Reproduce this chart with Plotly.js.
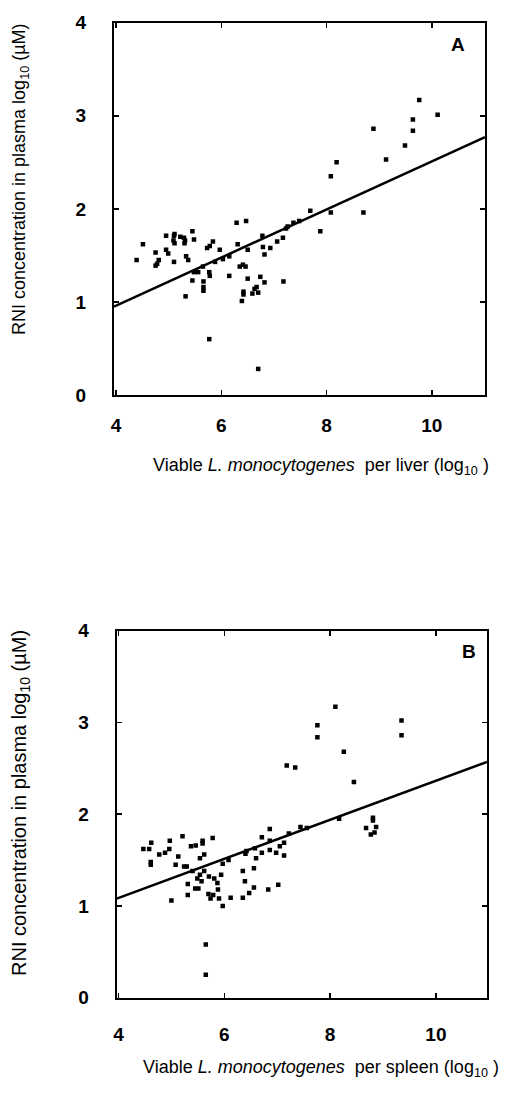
<!DOCTYPE html>
<html>
<head>
<meta charset="utf-8">
<script src="https://cdn.plot.ly/plotly-3.0.1.min.js"></script>
<style>html,body{margin:0;padding:0;background:#fff;}#chart{width:515px;height:1111px;}</style>
</head>
<body>
<div id="chart"></div>
<script>
// Panel A: liver
const liverX = [4.39,4.51,4.75,4.81,4.75,4.78,4.95,4.95,4.99,5.10,5.10,5.11,5.09,5.22,5.11,5.29,5.30,5.31,5.45,5.48,5.33,5.37,5.32,5.45,5.48,5.56,5.65,5.66,5.66,5.66,5.73,5.78,5.84,5.77,5.78,5.77,5.88,5.97,6.03,6.15,6.15,
  6.29,6.47,6.31,6.35,6.46,6.50,6.41,6.50,6.42,6.42,6.39,6.59,6.63,6.67,6.70,6.74,6.82,6.70,6.78,6.79,6.82,6.93,7.06,7.17,7.18,7.23,7.26,7.37,7.48,7.69,7.88,8.08,8.08,8.19,8.70,8.89,9.13,9.49,9.64,9.64,9.76,10.11];
const liverY = [1.45,1.62,1.53,1.45,1.39,1.41,1.71,1.56,1.52,1.43,1.71,1.63,1.66,1.70,1.73,1.69,1.63,1.66,1.76,1.67,1.49,1.45,1.06,1.23,1.32,1.32,1.38,1.22,1.16,1.12,1.58,1.60,1.65,1.32,1.28,0.60,1.43,1.56,1.46,1.49,1.28,
  1.85,1.87,1.62,1.38,1.38,1.56,1.40,1.25,1.11,1.08,1.01,1.09,1.14,1.16,1.10,1.27,1.21,0.28,1.71,1.59,1.51,1.58,1.65,1.69,1.22,1.79,1.81,1.85,1.87,1.98,1.76,1.96,2.35,2.50,1.96,2.86,2.53,2.68,2.84,2.96,3.17,3.01];
const liverFitX = [3.96, 11.01];
const liverFitY = [0.95, 2.77];

// Panel B: spleen
const spleenX = [4.47,4.58,4.62,4.61,4.61,4.77,4.88,4.96,4.97,5.00,5.08,5.13,5.21,5.24,5.29,5.31,5.31,5.37,5.40,5.46,5.45,5.51,5.49,5.54,5.59,5.59,5.62,5.62,5.57,5.54,5.65,5.65,5.71,5.70,5.74,5.78,5.79,5.81,5.87,5.88,5.90,5.94,5.97,5.97,6.08,6.12,
  6.35,6.35,6.39,6.40,6.42,6.47,6.56,6.56,6.58,6.60,6.71,6.71,6.83,6.86,6.86,6.86,6.98,7.02,7.05,7.13,7.13,7.18,7.22,7.34,7.44,7.56,7.76,7.76,8.10,8.17,8.26,8.45,8.68,8.77,8.81,8.81,8.87,8.84,9.35,9.35];
const spleenY = [1.62,1.62,1.69,1.48,1.45,1.56,1.58,1.62,1.71,1.06,1.45,1.54,1.76,1.43,1.43,1.24,1.12,1.65,1.38,1.66,1.19,1.19,1.30,1.52,1.68,1.71,1.56,1.38,1.27,1.34,0.58,0.25,1.32,1.13,1.08,1.74,1.12,1.30,1.25,1.18,1.08,1.34,1.46,1.00,1.50,1.09,
  1.38,1.09,1.27,1.57,1.60,1.14,1.41,1.20,1.63,1.52,1.58,1.75,1.18,1.84,1.71,1.61,1.58,1.23,1.65,1.69,1.55,2.53,1.79,2.51,1.86,1.85,2.97,2.84,3.17,1.95,2.68,2.35,1.85,1.78,1.96,1.93,1.86,1.80,3.02,2.86];
const spleenFitX = [3.966, 10.966];
const spleenFitY = [1.08, 2.57];

const xTicks = [4, 6, 8, 10];
const yTicks = [0, 1, 2, 3, 4];
const panelLabels = ['A', 'B'];
const xTitles = ['Viable <i>L. monocytogenes</i>  per liver (log<sub>10</sub> )',
                 'Viable <i>L. monocytogenes</i>  per spleen (log<sub>10</sub> )'];
const yTitle = 'RNI concentration in plasma log<sub>10</sub> (µM)';

const FONT = 'Liberation Sans, Arial, Helvetica, sans-serif';
const W = 515, H = 1111;

const marker = {symbol: 'square', size: 4.5, color: '#000'};
const traces = [
  {x: liverX, y: liverY, type: 'scatter', mode: 'markers', marker: marker, xaxis: 'x', yaxis: 'y', hoverinfo: 'skip'},
  {x: liverFitX, y: liverFitY, type: 'scatter', mode: 'lines', line: {color: '#000', width: 2.5}, xaxis: 'x', yaxis: 'y', hoverinfo: 'skip'},
  {x: spleenX, y: spleenY, type: 'scatter', mode: 'markers', marker: marker, xaxis: 'x2', yaxis: 'y2', hoverinfo: 'skip'},
  {x: spleenFitX, y: spleenFitY, type: 'scatter', mode: 'lines', line: {color: '#000', width: 2.5}, xaxis: 'x2', yaxis: 'y2', hoverinfo: 'skip'}
];

function xax(domain, range, anchor, standoff) {
  return {domain: domain, range: range, anchor: anchor, tickvals: xTicks, ticktext: xTicks.map(String),
    ticks: 'inside', ticklen: 5, tickwidth: 1.5, tickcolor: '#000', showline: true, linecolor: '#000', linewidth: 2,
    mirror: 'ticks', showgrid: false, zeroline: false, ticklabelstandoff: standoff,
    tickfont: {family: FONT, size: 19, color: '#000', weight: 'bold'}};
}
function yax(domain, anchor) {
  return {domain: domain, range: [0, 4], anchor: anchor, tickvals: yTicks, ticktext: yTicks.map(String),
    ticks: 'inside', ticklen: 5, tickwidth: 1.5, tickcolor: '#000', showline: true, linecolor: '#000', linewidth: 2,
    mirror: 'ticks', showgrid: false, zeroline: false, ticklabelstandoff: 22,
    tickfont: {family: FONT, size: 19, color: '#000', weight: 'bold'}};
}

const layout = {
  width: W, height: H, margin: {l: 0, r: 0, t: 0, b: 0}, showlegend: false,
  paper_bgcolor: '#fff', plot_bgcolor: '#fff',
  font: {family: FONT, color: '#000'},
  xaxis: xax([114 / W, 485 / W], [3.96, 11.01], 'y', 12),
  yaxis: yax([1 - 395 / H, 1 - 22.7 / H], 'x'),
  xaxis2: xax([116.7 / W, 487 / W], [3.966, 10.966], 'y2', 18),
  yaxis2: yax([1 - 997.7 / H, 1 - 630.7 / H], 'x2'),
  annotations: [
    {text: panelLabels[0], xref: 'paper', yref: 'paper', x: 458 / W, y: 1 - 45 / H, showarrow: false, xanchor: 'center', yanchor: 'middle', font: {family: FONT, size: 19, weight: 'bold'}},
    {text: panelLabels[1], xref: 'paper', yref: 'paper', x: 469 / W, y: 1 - 652 / H, showarrow: false, xanchor: 'center', yanchor: 'middle', font: {family: FONT, size: 19, weight: 'bold'}},
    {text: xTitles[0], xref: 'paper', yref: 'paper', x: 321 / W, y: 1 - 467 / H, showarrow: false, xanchor: 'center', yanchor: 'middle', font: {family: FONT, size: 18}},
    {text: xTitles[1], xref: 'paper', yref: 'paper', x: 321 / W, y: 1 - 1068 / H, showarrow: false, xanchor: 'center', yanchor: 'middle', font: {family: FONT, size: 18}},
    {text: yTitle, xref: 'paper', yref: 'paper', x: 20 / W, y: 1 - 179 / H, showarrow: false, textangle: -90, xanchor: 'center', yanchor: 'middle', font: {family: FONT, size: 18}},
    {text: yTitle, xref: 'paper', yref: 'paper', x: 20 / W, y: 1 - 803 / H, showarrow: false, textangle: -90, xanchor: 'center', yanchor: 'middle', font: {family: FONT, size: 20}}
  ]
};

Plotly.newPlot('chart', traces, layout, {staticPlot: true, displayModeBar: false});
</script>
</body>
</html>
